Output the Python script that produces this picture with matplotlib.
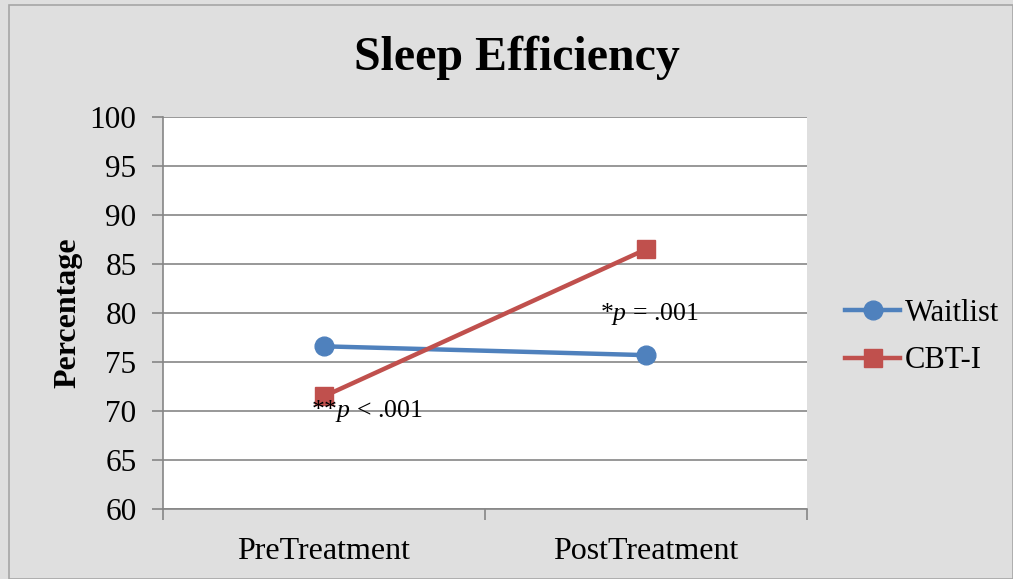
import numpy as np
import matplotlib
matplotlib.use("Agg")
import matplotlib.pyplot as plt

plt.rcParams['font.family'] = ['Liberation Serif', 'DejaVu Serif']
plt.rcParams['mathtext.fontset'] = 'custom'
plt.rcParams['mathtext.rm'] = 'Liberation Serif'
plt.rcParams['mathtext.it'] = 'Liberation Serif:italic'

# data
phases = ["PreTreatment", "PostTreatment"]
waitlist = [76.6, 75.7]
cbti = [71.5, 86.5]
y_ticks = [60, 65, 70, 75, 80, 85, 90, 95, 100]

fig = plt.figure(figsize=(10.13, 5.79), dpi=100, facecolor='#dfdfdf')
# outer chart border
fig.patches.append(plt.Rectangle((9/1013, 0), 1 - 9/1013, 1 - 5/579, transform=fig.transFigure,
                                 fill=False, edgecolor='#a6a6a6', linewidth=1.2))
ax = fig.add_axes([163/1013, 1 - 509/579, 644/1013, 392/579])
ax.set_facecolor('white')

x = np.arange(len(phases))
ax.plot(x, waitlist, color='#4f81bd', linewidth=3.2, marker='o', markersize=13.5, label='Waitlist', zorder=3)
ax.plot(x, cbti, color='#c0504d', linewidth=3.2, marker='s', markersize=13.5, label='CBT-I', zorder=3)

ax.set_xlim(-0.5, 1.5)
ax.set_ylim(60, 100)
ax.set_yticks(y_ticks)
ax.set_yticklabels([str(v) for v in y_ticks], fontsize=22.5)
ax.set_xticks([-0.5, 0.5, 1.5], minor=False)
ax.set_xticklabels([])
ax.set_xticks(x, minor=True)
ax.set_xticklabels(phases, minor=True, fontsize=23)
ax.tick_params(axis='x', which='minor', length=0, pad=20)
ax.tick_params(axis='x', which='major', length=8, color='#868686', width=1.2)
ax.tick_params(axis='y', length=8, color='#868686', width=1.2, pad=11)
ax.yaxis.grid(True, color='#868686', linewidth=1.2)
ax.set_axisbelow(True)
for s in ['top', 'right']:
    ax.spines[s].set_visible(False)
for s in ['left', 'bottom']:
    ax.spines[s].set_color('#868686')
    ax.spines[s].set_linewidth(1.2)

ax.set_ylabel('Percentage', fontsize=23, fontweight='bold', labelpad=5)
fig.text(517/1013, 1 - 58/579, 'Sleep Efficiency', fontsize=34.5, fontweight='bold',
         ha='center', va='center')

ax.text(-0.04, 70.0, r'**$p$ < .001', fontsize=18.5, ha='left', va='center')
ax.text(1.01, 79.9, r'*$p$ = .001', fontsize=18.5, ha='center', va='center')

leg = ax.legend(loc='center left', bbox_to_anchor=(1.026, 0.438), frameon=False, fontsize=22,
                handlelength=1.8, handletextpad=0.15, labelspacing=0.6, borderaxespad=0.3)

fig.savefig('out.png', dpi=100, facecolor=fig.get_facecolor())
